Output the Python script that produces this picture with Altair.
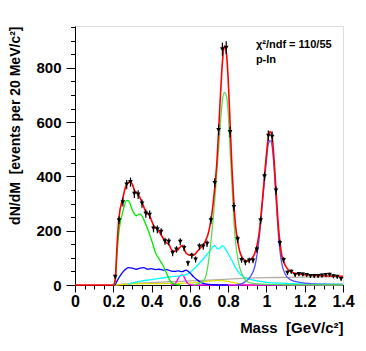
import altair as alt
import pandas as pd

# ---- measured data (bins of 20 MeV) ----
mass = [0.21, 0.23, 0.25, 0.27, 0.29, 0.31, 0.33, 0.35, 0.37, 0.39,
        0.41, 0.43, 0.45, 0.47, 0.49, 0.51, 0.53, 0.55, 0.57, 0.59,
        0.61, 0.63, 0.65, 0.67, 0.69, 0.71, 0.73, 0.75, 0.77, 0.79,
        0.81, 0.83, 0.85, 0.87, 0.89, 0.91, 0.93, 0.95, 0.97, 0.99,
        1.01, 1.03, 1.05, 1.07, 1.09, 1.11, 1.13, 1.15, 1.17, 1.19,
        1.21, 1.23, 1.25, 1.27, 1.29, 1.31, 1.33, 1.35, 1.37, 1.39]
counts = [30, 238, 305, 370, 379, 336, 333, 300, 263, 259,
          208, 205, 196, 161, 159, 118, 131, 159, 136, 80,
          108, 94, 142, 142, 152, 238, 376, 571, 868, 874,
          563, 287, 168, 92, 83, 90, 90, 131, 238, 400,
          550, 546, 348, 155, 92, 45, 49, 37, 40, 39,
          37, 33, 33, 33, 35, 37, 38, 32, 30, 22]
errors = [7, 14, 16, 17, 17, 16, 16, 15, 15, 15,
          14, 14, 13, 13, 13, 12, 12, 13, 12, 10,
          11, 11, 12, 12, 12, 14, 17, 20, 24, 24,
          20, 16, 13, 10, 10, 10, 10, 12, 14, 17,
          19, 19, 16, 12, 10, 8, 8, 7, 7, 7,
          7, 7, 7, 7, 7, 7, 7, 7, 7, 6]

# ---- fit components ----
total_x = [0.0, 0.20, 0.21, 0.22, 0.23, 0.25, 0.27, 0.29, 0.30, 0.31, 0.33, 0.35, 0.37, 0.39,
           0.41, 0.43, 0.45, 0.47, 0.49, 0.51, 0.53, 0.55, 0.56, 0.58, 0.60, 0.62, 0.64,
           0.66, 0.68, 0.70, 0.72, 0.74, 0.76, 0.77, 0.78, 0.79, 0.80, 0.81, 0.82, 0.83,
           0.84, 0.85, 0.86, 0.88, 0.90, 0.92, 0.94, 0.96, 0.98, 1.00, 1.01, 1.02, 1.03,
           1.04, 1.05, 1.06, 1.07, 1.08, 1.10, 1.12, 1.15, 1.20, 1.30, 1.40]
total_y = [0, 0, 20, 150, 250, 320, 372, 380, 370, 350, 335, 305, 270, 255,
           220, 205, 185, 160, 150, 125, 125, 140, 145, 118, 110, 110, 125,
           140, 160, 200, 290, 440, 700, 820, 880, 860, 760, 600, 430, 300,
           210, 160, 125, 95, 88, 95, 118, 180, 320, 480, 545, 565, 545,
           460, 350, 240, 160, 110, 70, 52, 43, 38, 34, 32]

eta_dal_x = [0.20, 0.21, 0.22, 0.23, 0.25, 0.27, 0.28, 0.30, 0.32, 0.34, 0.36, 0.38,
             0.40, 0.42, 0.44, 0.46, 0.48, 0.50, 0.52, 0.55]
eta_dal_y = [0, 10, 120, 200, 270, 312, 310, 275, 255, 262, 240, 205,
             165, 120, 95, 72, 40, 12, 3, 0]

omega_x = [0.62, 0.66, 0.68, 0.70, 0.72, 0.73, 0.74, 0.75, 0.76, 0.77, 0.78, 0.79,
           0.80, 0.81, 0.82, 0.83, 0.84, 0.85, 0.86, 0.88, 0.90, 0.94, 0.98, 1.10, 1.40]
omega_y = [0, 10, 25, 100, 230, 312, 410, 500, 600, 680, 709, 700,
           640, 500, 370, 240, 150, 100, 65, 30, 12, 5, 3, 1, 0]

rho_x = [0.28, 0.30, 0.35, 0.40, 0.45, 0.50, 0.55, 0.58, 0.60, 0.62, 0.65, 0.68, 0.70,
         0.72, 0.73, 0.745, 0.76, 0.77, 0.78, 0.80, 0.82, 0.84, 0.86, 0.88, 0.92, 0.96,
         1.00, 1.10, 1.20, 1.40]
rho_y = [3, 8, 15, 20, 25, 30, 34, 38, 45, 58, 80, 105, 122,
         140, 145, 132, 138, 145, 138, 115, 90, 62, 42, 30, 20, 14,
         10, 6, 4, 2]

omega_dal_x = [0.20, 0.21, 0.22, 0.24, 0.26, 0.28, 0.30, 0.32, 0.34, 0.36, 0.38, 0.40,
               0.42, 0.44, 0.46, 0.48, 0.50, 0.52, 0.54, 0.56, 0.58, 0.60, 0.62, 0.64,
               0.66, 0.68, 0.72, 0.80]
omega_dal_y = [0, 2, 15, 38, 55, 64, 62, 58, 62, 64, 58, 60,
               57, 58, 55, 57, 52, 50, 52, 49, 55, 45, 30, 18,
               9, 4, 1, 0]

phi_x = [0.84, 0.88, 0.90, 0.92, 0.94, 0.96, 0.98, 1.00, 1.01, 1.02, 1.03, 1.04,
         1.05, 1.06, 1.07, 1.08, 1.10, 1.12, 1.15, 1.20, 1.30, 1.40]
phi_y = [0, 8, 18, 35, 70, 160, 310, 460, 520, 532, 510, 430,
         320, 210, 130, 80, 38, 22, 13, 7, 3, 2]

eta_mm_x = [0.50, 0.52, 0.53, 0.54, 0.55, 0.56, 0.57, 0.58, 0.59, 0.60, 0.62, 1.40]
eta_mm_y = [0, 3, 12, 25, 35, 37, 30, 15, 5, 1, 0, 0]

etap_x = [0.21, 0.30, 0.40, 0.50, 0.60, 0.70, 0.75, 0.80, 0.85, 0.90, 0.95]
etap_y = [0, 4, 5, 6, 8, 14, 17, 13, 6, 1, 0]

dd_x = [0.20, 0.25, 0.30, 0.40, 0.50, 0.60, 0.70, 0.80, 0.90, 1.00, 1.10, 1.20, 1.30, 1.40]
dd_y = [0, 3, 6, 9, 12, 15, 18, 22, 25, 27, 28, 29, 30, 30]

components = [
    ("dd", dd_x, dd_y),
    ("etap_dalitz", etap_x, etap_y),
    ("eta_mumu", eta_mm_x, eta_mm_y),
    ("rho", rho_x, rho_y),
    ("omega_dalitz", omega_dal_x, omega_dal_y),
    ("phi", phi_x, phi_y),
    ("eta_dalitz", eta_dal_x, eta_dal_y),
    ("omega", omega_x, omega_y),
]
comp_names = [c[0] for c in components]
comp_colors = ["#b4aca4", "#e0e000", "#ff00ff", "#00ffff", "#0000ff", "#5050ff",
               "#00ee00", "#55dd55"]

rows = []
for name, xs_, ys_ in components:
    for a, b in zip(xs_, ys_):
        rows.append({"m": a, "v": b, "comp": name})
comp_df = pd.DataFrame(rows)
total_df = pd.DataFrame({"m": total_x, "v": total_y})
data_df = pd.DataFrame({"m": mass, "v": counts,
                        "lo": [c - e for c, e in zip(counts, errors)],
                        "hi": [c + e for c, e in zip(counts, errors)]})
ann_df = pd.DataFrame({"m": [0.945, 0.945], "v": [874, 816],
                       "t": ["χ²/ndf = 110/55", "p-In"]})

FONT = "Liberation Sans"
xs = alt.Scale(domain=[0, 1.4], nice=False, zero=False)
ys = alt.Scale(domain=[0, 954], nice=False)

x_main = alt.X("m:Q", scale=xs, axis=alt.Axis(
    orient="bottom",
    values=[0, 0.2, 0.4, 0.6, 0.8, 1.0, 1.2, 1.4], format="~g", tickSize=7,
    labelFont=FONT, labelFontSize=16, labelFontWeight="bold", labelColor="black",
    labelPadding=1, domainColor="black", tickColor="black", grid=False,
    labelFlush=False, labelOverlap=False,
    title="Mass\u00a0 [GeV/c²]", titleFont=FONT, titleFontSize=15,
    titleFontWeight="bold", titleColor="black", titleAlign="right",
    titleAnchor="end", titleX=268, titleY=47, titleBaseline="alphabetic"))
y_main = alt.Y("v:Q", scale=ys, axis=alt.Axis(
    orient="left",
    values=[0, 200, 400, 600, 800], format="d", tickSize=9,
    labelFont=FONT, labelFontSize=15, labelFontWeight="bold", labelColor="black",
    labelPadding=5, domainColor="black", tickColor="black", grid=False,
    labelFlush=False,
    title="dN/dM\u00a0 [events per 20 MeV/c²]", titleFont=FONT, titleFontSize=14,
    titleFontWeight="bold", titleColor="black", titleAngle=270,
    titleAlign="right", titleAnchor="end", titleX=-53, titleY=0,
    titleBaseline="bottom"))

minor_x_vals = [round(0.05 * i, 2) for i in range(29)]
minor_y_vals = [50 * i for i in range(20)]

minor = alt.Chart(total_df).mark_line(opacity=0).encode(
    x=alt.X("m:Q", scale=xs, axis=alt.Axis(
        values=minor_x_vals, tickSize=4, labels=False, domain=False, grid=False,
        title=None, orient="bottom", tickColor="black")),
    y=alt.Y("v:Q", scale=ys, axis=alt.Axis(
        values=minor_y_vals, tickSize=4.5, labels=False, domain=False, grid=False,
        title=None, orient="left", tickColor="black")),
)

comp_lines = alt.Chart(comp_df).mark_line(strokeWidth=1.3, interpolate="monotone").encode(
    x=x_main, y=y_main,
    color=alt.Color("comp:N", scale=alt.Scale(domain=comp_names, range=comp_colors), legend=None),
    detail="comp:N",
)

total_line = alt.Chart(total_df).mark_line(color="#ff0000", strokeWidth=1.6,
                                           interpolate="monotone").encode(
    x=alt.X("m:Q", scale=xs, axis=None), y=alt.Y("v:Q", scale=ys, axis=None))

err = alt.Chart(data_df).mark_rule(color="black", strokeWidth=1.2).encode(
    x=alt.X("m:Q", scale=xs, axis=None), y=alt.Y("lo:Q", scale=ys, axis=None), y2="hi:Q")

pts = alt.Chart(data_df).mark_point(shape="triangle-down", filled=True, color="black",
                                    size=22, opacity=1).encode(
    x=alt.X("m:Q", scale=xs, axis=None), y=alt.Y("v:Q", scale=ys, axis=None))

ann = alt.Chart(ann_df).mark_text(align="left", baseline="alphabetic", font=FONT,
                                  fontSize=11, fontWeight="bold", color="black").encode(
    x=alt.X("m:Q", scale=xs, axis=None), y=alt.Y("v:Q", scale=ys, axis=None), text="t:N")

chart = alt.layer(minor, comp_lines, total_line, err, pts, ann).resolve_axis(
    x="independent", y="independent"
).properties(
    width=268, height=259,
    autosize=alt.AutoSizeParams(type="none"),
    padding={"left": 67, "top": 18, "right": 15, "bottom": 56},
).configure_view(stroke="#999999", strokeWidth=1.2).configure(background="white")

chart.save("out.html", embed_options={"renderer": "svg", "actions": False})
